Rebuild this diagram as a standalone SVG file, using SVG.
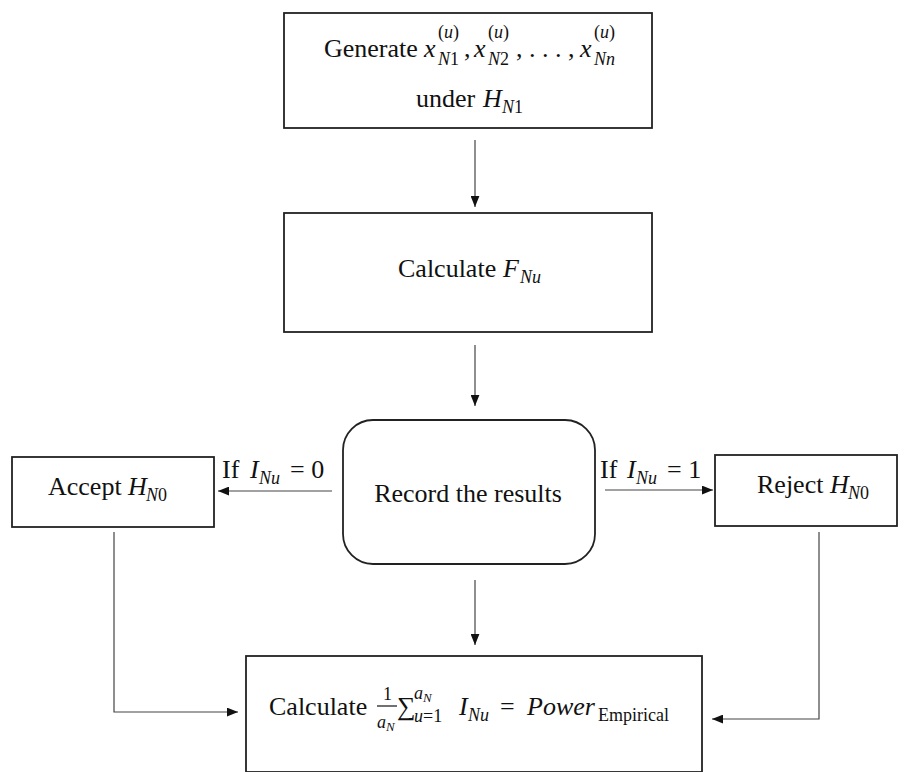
<svg xmlns="http://www.w3.org/2000/svg" width="909" height="772" viewBox="0 0 909 772" font-family="'Liberation Serif', 'DejaVu Serif', serif">
<defs>
<style>
.box{fill:#fff;stroke:#222;stroke-width:1.8}
.ln{fill:none;stroke:#444;stroke-width:1.2}
.tx{font-family:'Liberation Serif','DejaVu Serif',serif;fill:#111}
.t{font-size:26px}
.i{font-style:italic}
.s{font-size:18px}
.ss{font-size:13px}
</style>
<marker id="ah" viewBox="0 0 10 8" refX="10" refY="4" markerWidth="11" markerHeight="9" markerUnits="userSpaceOnUse" orient="auto">
<path d="M0,0 L10,4 L0,8 z" fill="#111"/>
</marker>
</defs>
<rect width="909" height="772" fill="#fff"/>
<g id="connectors">
<line class="ln" x1="475" y1="140" x2="475" y2="207" marker-end="url(#ah)"/>
<line class="ln" x1="475" y1="345" x2="475" y2="406" marker-end="url(#ah)"/>
<line class="ln" x1="332" y1="491" x2="218" y2="491" marker-end="url(#ah)"/>
<line class="ln" x1="605" y1="490" x2="713" y2="490" marker-end="url(#ah)"/>
<line class="ln" x1="475" y1="580" x2="475" y2="645" marker-end="url(#ah)"/>
<polyline class="ln" points="114,532 114,712 238,712" marker-end="url(#ah)"/>
<polyline class="ln" points="819,532 819,719 712,719" marker-end="url(#ah)"/>
</g>
<g id="generate" class="tx">
<rect class="box" x="284" y="13" width="368" height="115"/>
<text class="t" x="324" y="57">Generate</text>
<text class="t i" x="424" y="57">x</text>
<text class="s" x="438" y="38">(<tspan class="i">u</tspan>)</text>
<text class="s" x="438" y="65"><tspan class="i">N</tspan>1</text>
<text class="t" x="464" y="57">,</text>
<text class="t i" x="474" y="57">x</text>
<text class="s" x="488" y="38">(<tspan class="i">u</tspan>)</text>
<text class="s" x="488" y="65"><tspan class="i">N</tspan>2</text>
<text class="t" x="516" y="57">, . . . ,</text>
<text class="t i" x="580" y="57">x</text>
<text class="s" x="594" y="38">(<tspan class="i">u</tspan>)</text>
<text class="s i" x="594" y="65">Nn</text>
<text class="t" x="416" y="107">under</text>
<text class="t i" x="483" y="107">H</text>
<text class="s" x="502" y="113"><tspan class="i">N</tspan>1</text>
</g>
<g id="calcF" class="tx">
<rect class="box" x="284" y="213" width="368" height="119"/>
<text class="t" x="398" y="277">Calculate</text>
<text class="t i" x="503" y="277">F</text>
<text class="s i" x="520" y="283">Nu</text>
</g>
<g id="record" class="tx">
<rect class="box" x="343" y="420" width="252" height="144" rx="30" ry="30"/>
<text class="t" x="468" y="502" text-anchor="middle">Record the results</text>
</g>
<g id="accept" class="tx">
<rect class="box" x="12" y="457" width="202" height="70"/>
<text class="t" x="48" y="495">Accept</text>
<text class="t i" x="128" y="495">H</text>
<text class="s" x="146" y="501"><tspan class="i">N</tspan>0</text>
</g>
<g id="reject" class="tx">
<rect class="box" x="715" y="455" width="182" height="71"/>
<text class="t" x="757" y="493">Reject</text>
<text class="t i" x="830" y="493">H</text>
<text class="s" x="848" y="499"><tspan class="i">N</tspan>0</text>
</g>
<g id="labels" class="tx">
<text class="t" x="222" y="478">If</text>
<text class="t i" x="250" y="478">I</text>
<text class="s i" x="259" y="484">Nu</text>
<text class="t" x="290" y="478">= 0</text>
<text class="t" x="600" y="478">If</text>
<text class="t i" x="627" y="478">I</text>
<text class="s i" x="636" y="484">Nu</text>
<text class="t" x="667" y="478">= 1</text>
</g>
<g id="power" class="tx">
<rect class="box" x="246" y="656" width="456" height="116"/>
<text class="t" x="269" y="715">Calculate</text>
<text class="s" x="383" y="700">1</text>
<line x1="377" y1="706" x2="397" y2="706" stroke="#111" stroke-width="1.2"/>
<text class="s i" x="377" y="728">a</text>
<text class="ss i" x="386" y="731">N</text>
<text class="t" x="397" y="715">∑</text>
<text class="s i" x="414" y="699">a</text>
<text class="ss i" x="423" y="702">N</text>
<text class="s" x="414" y="722"><tspan class="i">u</tspan>=1</text>
<text class="t i" x="459" y="715">I</text>
<text class="s i" x="468" y="721">Nu</text>
<text class="t" x="500" y="715">=</text>
<text class="t i" x="527" y="715">Power</text>
<text class="s" x="598" y="721">Empirical</text>
</g>
</svg>
